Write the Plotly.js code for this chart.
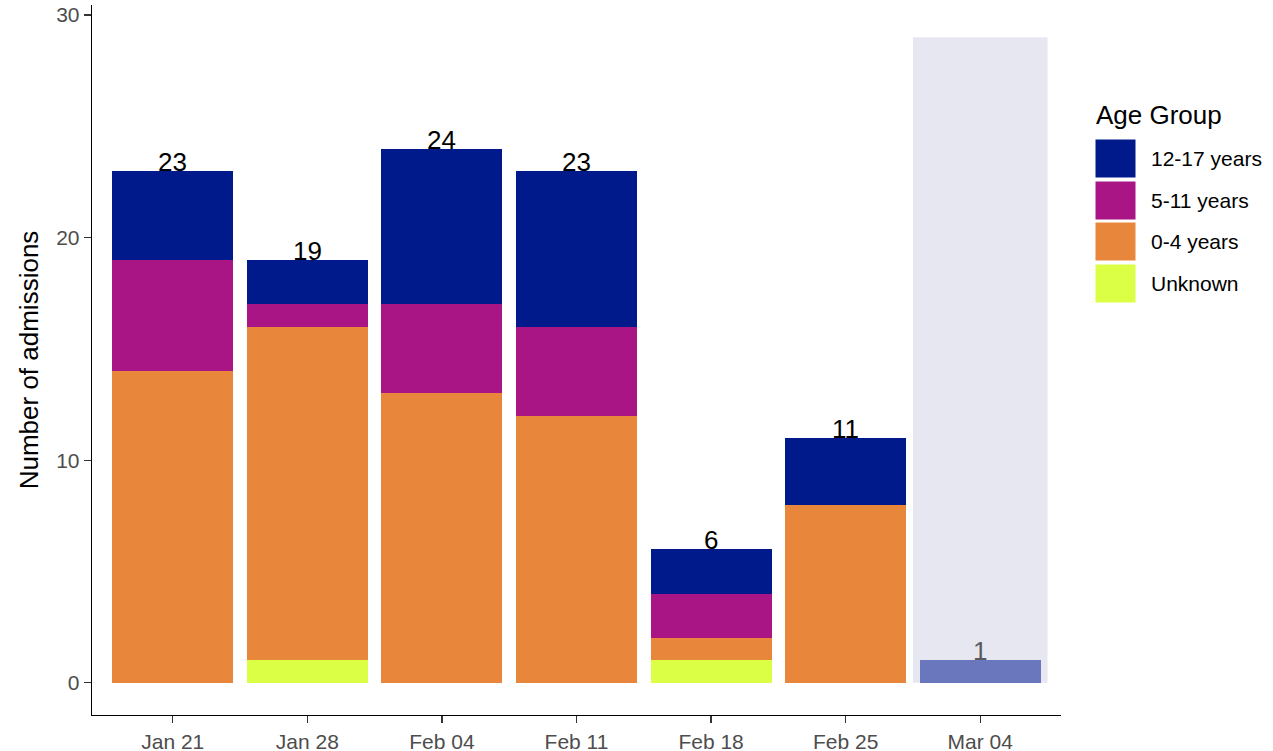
<!DOCTYPE html>
<html>
<head>
<meta charset="utf-8">
<script src="https://cdn.plot.ly/plotly-3.0.1.min.js"></script>
<style>html,body{margin:0;padding:0;background:#fff;}#chart{width:1273px;height:751px;}</style>
</head>
<body>
<div id="chart"></div>
<script>
// ---- data ----
const weeks = ["Jan 21", "Jan 28", "Feb 04", "Feb 11", "Feb 18", "Feb 25", "Mar 04"];
const unknown   = [0, 1, 0, 0, 1, 0, null];
const age0to4   = [14, 15, 13, 12, 1, 8, null];
const age5to11  = [5, 1, 4, 4, 2, 0, null];
const age12to17 = [4, 2, 7, 7, 2, 3, null];
const partialWeek = [null, null, null, null, null, null, 1];
const groupNames = ["Unknown", "0-4 years", "5-11 years", "12-17 years"];
const legendOrder = ["12-17 years", "5-11 years", "0-4 years", "Unknown"];
const shadeTop = 29;

// ---- styles ----
const colors = {
  "Unknown": "#DBFF45",
  "0-4 years": "#E8863C",
  "5-11 years": "#A91584",
  "12-17 years": "#001A8B"
};
const partialColor = "#6B77BD";
const FONT = "Liberation Sans, Arial, Helvetica, sans-serif";

const series = {"Unknown": unknown, "0-4 years": age0to4, "5-11 years": age5to11, "12-17 years": age12to17};

const traces = groupNames.map(g => ({
  type: "bar", name: g, x: weeks, y: series[g],
  marker: {color: colors[g], line: {width: 0}},
  showlegend: false, hoverinfo: "x+y+name"
}));
traces.push({
  type: "bar", name: "Incomplete week", x: weeks, y: partialWeek,
  marker: {color: partialColor, line: {width: 0}}, showlegend: false
});

// totals
const totals = weeks.map((w, i) => {
  if (partialWeek[i] != null) return partialWeek[i];
  return groupNames.reduce((s, g) => s + (series[g][i] || 0), 0);
});

// geometry helpers (paper coords)
const L = 92, R = 1061, T = 5, B = 715;
const px = v => (v - L) / (R - L);
const py = v => (B - v) / (B - T);

const annotations = weeks.map((w, i) => ({
  x: w, y: totals[i], xref: "x", yref: "y",
  text: String(totals[i]), showarrow: false,
  yanchor: "middle", yshift: 9,
  font: {family: FONT, size: 26, color: partialWeek[i] != null ? "#5a5a5a" : "#000000"}
}));

const shapes = [{
  type: "rect", layer: "below", xref: "x", yref: "y",
  x0: weeks.length - 1.5, x1: weeks.length - 0.5, y0: 0, y1: shadeTop,
  fillcolor: "#E7E7F2", line: {width: 0}
}];

// manual legend
annotations.push({
  xref: "paper", yref: "paper", x: px(1094), y: py(115),
  xanchor: "left", yanchor: "middle", text: "Age Group", showarrow: false,
  font: {family: FONT, size: 26, color: "#000000"}
});
const keyTops = [139, 181, 222, 264];
legendOrder.forEach((g, k) => {
  const top = keyTops[k], bot = top + 39;
  shapes.push({
    type: "rect", xref: "paper", yref: "paper",
    x0: px(1095), x1: px(1136), y0: py(bot), y1: py(top),
    fillcolor: colors[g], line: {color: "#ffffff", width: 1}
  });
  annotations.push({
    xref: "paper", yref: "paper", x: px(1149), y: py((top + bot) / 2),
    xanchor: "left", yanchor: "middle", text: g, showarrow: false,
    font: {family: FONT, size: 21, color: "#000000"}
  });
});

const layout = {
  width: 1273, height: 751,
  margin: {l: L, r: 1273 - R, t: T, b: 751 - B, pad: 0},
  paper_bgcolor: "#ffffff", plot_bgcolor: "#ffffff",
  barmode: "stack", bargap: 0.1,
  font: {family: FONT},
  xaxis: {
    type: "category", range: [-0.6, 6.6], showgrid: false, zeroline: false,
    showline: true, linecolor: "#000000", linewidth: 1.3,
    ticks: "outside", ticklen: 7, tickwidth: 1.3, tickcolor: "#333333",
    tickfont: {family: FONT, size: 21, color: "#4D4D4D"}
  },
  yaxis: {
    range: [-1.45, 30.45], tickvals: [0, 10, 20, 30], showgrid: false, zeroline: false,
    showline: true, linecolor: "#000000", linewidth: 1.3,
    ticks: "outside", ticklen: 7, tickwidth: 1.3, tickcolor: "#333333",
    tickfont: {family: FONT, size: 21, color: "#4D4D4D"},
    title: {text: "Number of admissions", font: {family: FONT, size: 26, color: "#000000"}, standoff: 10}
  },
  shapes: shapes,
  annotations: annotations,
  showlegend: false
};

Plotly.newPlot("chart", traces, layout, {displayModeBar: false, staticPlot: true});
</script>
</body>
</html>
